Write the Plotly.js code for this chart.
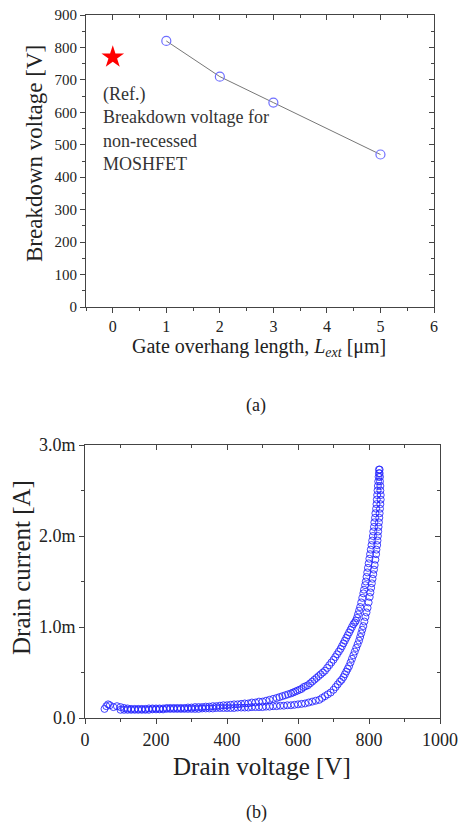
<!DOCTYPE html>
<html>
<head>
<meta charset="utf-8">
<script src="https://cdn.plot.ly/plotly-3.0.1.min.js"></script>
<style>html,body{margin:0;padding:0;background:#fff;}#chart{width:458px;height:826px;}</style>
</head>
<body>
<div id="chart"></div>
<script>
// ---- Panel (a) data ----
const gateOverhang = [1, 2, 3, 5];
const breakdownV = [820, 710, 630, 470];
const refLext = [0];
const refBreakdownV = [770];
const refLabel = "(Ref.)<br>Breakdown voltage for<br>non-recessed<br>MOSHFET";

// ---- Panel (b) data (drain current in mA) ----
const vForward = [100,110,120,130,140,150,160,170,180,190,200,210,220,230,240,250,260,270,280,290,300,310,320,330,340,350,360,370,380,390,400,410,420,430,440,450,460,470,480,490,500,510,520,530,540,550,560,570,580,590,600,610,620,630,640,650,660,668,676,684,692,700,706,712,718,723,728,732,736,740,744,748,752,756,760,764,768,772,775,778,781,784,787,790,793,796,799,802,804,806,808,810,812,814,816,818,820,821,823,824,825,826,827,828,829,830,831,832,833,833,832,832,831,831,830,830];
const iForward = [0.09,0.09,0.09,0.09,0.09,0.09,0.09,0.09,0.09,0.095,0.095,0.095,0.095,0.1,0.1,0.1,0.1,0.1,0.1,0.1,0.1,0.1,0.1,0.105,0.105,0.105,0.105,0.11,0.11,0.11,0.11,0.11,0.11,0.115,0.115,0.115,0.115,0.12,0.12,0.12,0.12,0.125,0.125,0.13,0.13,0.135,0.135,0.14,0.14,0.145,0.15,0.155,0.16,0.17,0.18,0.19,0.2,0.22,0.24,0.26,0.28,0.31,0.34,0.37,0.4,0.42,0.45,0.48,0.51,0.54,0.57,0.61,0.65,0.69,0.73,0.77,0.81,0.85,0.89,0.93,0.97,1.01,1.06,1.11,1.16,1.21,1.27,1.33,1.38,1.43,1.48,1.53,1.58,1.63,1.68,1.74,1.8,1.85,1.9,1.95,2.0,2.05,2.1,2.15,2.2,2.25,2.3,2.35,2.4,2.45,2.5,2.55,2.6,2.65,2.69,2.73];
const vReturn = [828,828,827,826,825,824,823,822,821,820,818,817,815,814,812,811,809,807,805,803,801,799,797,795,793,791,789,786,784,781,778,775,772,769,766,763,760,756,752,748,744,740,736,732,728,724,720,715,710,705,700,694,688,682,676,670,664,658,652,646,640,634,628,622,616,610,604,598,592,586,580,572,564,556,548,540,530,520,510,500,490,480,470,460,450,440,430,420,410,400,390,380,370,360,350,340,330,320,310,300,290,280,270,260,250,240,230,220,210,200,190,180,170,160,150,140,130,120,110,100,90,80,70,65,60,55];
const iReturn = [2.73,2.69,2.65,2.6,2.55,2.5,2.45,2.4,2.35,2.3,2.25,2.2,2.15,2.1,2.05,2.0,1.95,1.9,1.85,1.8,1.75,1.7,1.65,1.6,1.55,1.5,1.46,1.41,1.37,1.32,1.27,1.22,1.18,1.14,1.1,1.07,1.05,1.03,1.0,0.97,0.94,0.91,0.88,0.85,0.82,0.79,0.76,0.73,0.7,0.67,0.64,0.61,0.58,0.55,0.52,0.5,0.48,0.46,0.44,0.42,0.4,0.38,0.36,0.35,0.34,0.32,0.31,0.3,0.29,0.28,0.27,0.26,0.25,0.24,0.23,0.22,0.21,0.2,0.19,0.18,0.18,0.17,0.17,0.16,0.16,0.155,0.15,0.15,0.145,0.14,0.14,0.135,0.13,0.13,0.125,0.125,0.12,0.12,0.12,0.115,0.115,0.11,0.11,0.11,0.11,0.11,0.11,0.105,0.105,0.105,0.105,0.105,0.1,0.1,0.1,0.1,0.1,0.105,0.11,0.12,0.13,0.12,0.14,0.15,0.13,0.1];
const currentTickVals = [0, 1, 2, 3];
const currentTickText = ["0.0", "1.0m", "2.0m", "3.0m"];

const W = 458, H = 826;
const px = v => v / W, py = v => 1 - v / H;
const serif = "Liberation Serif";
const axCol = "#444";
const txtCol = "#222";

const baseAxis = (extra) => Object.assign({
  showline: true, linecolor: axCol, linewidth: 1, mirror: false,
  showgrid: false, zeroline: false, ticks: "outside", ticklen: 5, tickwidth: 1, tickcolor: axCol,
  tickfont: {family: serif, size: 16, color: txtCol}, fixedrange: true
}, extra);
const mirrorAxis = (extra) => Object.assign({
  showline: true, linecolor: axCol, linewidth: 1, showgrid: false, zeroline: false,
  ticks: "inside", ticklen: 5, tickwidth: 1, tickcolor: axCol, showticklabels: false, fixedrange: true
}, extra);

const blue = "rgba(35,35,255,0.85)";
const traces = [
  {x: gateOverhang, y: breakdownV, xaxis: "x", yaxis: "y", mode: "lines+markers", type: "scatter",
   line: {color: "#777", width: 1},
   marker: {symbol: "circle-open", size: 9, color: "#6f6fff", line: {width: 1.2, color: "#6f6fff"}},
   hoverinfo: "skip", cliponaxis: false},
  {x: refLext, y: refBreakdownV, xaxis: "x", yaxis: "y", mode: "markers", type: "scatter",
   marker: {symbol: "star", size: 17, color: "#ff0000", line: {width: 0}}, hoverinfo: "skip"},
  {x: vForward, y: iForward, xaxis: "x2", yaxis: "y2", mode: "markers", type: "scatter",
   marker: {symbol: "circle-open", size: 7, color: blue, line: {width: 1, color: blue}},
   hoverinfo: "skip", cliponaxis: false},
  {x: vReturn, y: iReturn, xaxis: "x2", yaxis: "y2", mode: "markers", type: "scatter",
   marker: {symbol: "circle-open", size: 7, color: blue, line: {width: 1, color: blue}},
   hoverinfo: "skip", cliponaxis: false},
  {x: [null], y: [null], xaxis: "x3", yaxis: "y3", type: "scatter", mode: "markers", hoverinfo: "skip"},
  {x: [null], y: [null], xaxis: "x4", yaxis: "y4", type: "scatter", mode: "markers", hoverinfo: "skip"}
];

const dA = {x: [px(86), px(434)], y: [py(307), py(15)]};
const dB = {x: [px(85), px(440)], y: [py(718), py(445)]};

const layout = {
  width: W, height: H, margin: {l: 0, r: 0, t: 0, b: 0},
  paper_bgcolor: "#fff", plot_bgcolor: "#fff", showlegend: false,
  xaxis: baseAxis({domain: dA.x, anchor: "y", range: [-0.5, 6], dtick: 1, tick0: 0,
    minor: {dtick: 0.5, ticklen: 3, ticks: "outside", tickcolor: axCol}}),
  yaxis: baseAxis({domain: dA.y, anchor: "x", range: [0, 900], dtick: 100, tick0: 0,
    tickfont: {family: serif, size: 15, color: txtCol},
    minor: {dtick: 50, ticklen: 3, ticks: "outside", tickcolor: axCol}}),
  xaxis3: mirrorAxis({overlaying: "x", side: "top", anchor: "y", range: [-0.5, 6], dtick: 1, tick0: 0,
    minor: {dtick: 0.5, ticklen: 3, ticks: "inside", tickcolor: axCol}}),
  yaxis3: mirrorAxis({overlaying: "y", side: "right", anchor: "x", range: [0, 900], dtick: 100, tick0: 0,
    minor: {dtick: 50, ticklen: 3, ticks: "inside", tickcolor: axCol}}),
  xaxis2: baseAxis({domain: dB.x, anchor: "y2", range: [0, 1000], dtick: 200, tick0: 0,
    tickfont: {family: serif, size: 18, color: txtCol},
    minor: {dtick: 100, ticklen: 3, ticks: "outside", tickcolor: axCol}}),
  yaxis2: baseAxis({domain: dB.y, anchor: "x2", range: [0, 3], tickvals: currentTickVals, ticktext: currentTickText,
    tickfont: {family: serif, size: 18, color: txtCol},
    minor: {dtick: 0.5, ticklen: 3, ticks: "outside", tickcolor: axCol}}),
  xaxis4: mirrorAxis({overlaying: "x2", side: "top", anchor: "y2", range: [0, 1000], dtick: 200, tick0: 0,
    minor: {dtick: 100, ticklen: 3, ticks: "inside", tickcolor: axCol}}),
  yaxis4: mirrorAxis({overlaying: "y2", side: "right", anchor: "x2", range: [0, 3], dtick: 1, tick0: 0,
    minor: {dtick: 0.5, ticklen: 3, ticks: "inside", tickcolor: axCol}}),
  annotations: [
    {text: "Breakdown voltage [V]", xref: "paper", yref: "paper", x: px(35), y: py(154), textangle: -90,
     xanchor: "center", yanchor: "middle",
     showarrow: false, font: {family: serif, size: 23, color: txtCol}},
    {text: "Gate overhang length, <i>L</i><sub><i>ext</i></sub> [μm]", xref: "paper", yref: "paper", x: px(259), y: py(347),
     xanchor: "center", yanchor: "middle",
     showarrow: false, font: {family: serif, size: 20, color: txtCol}},
    {text: "(a)", xref: "paper", yref: "paper", x: px(256), y: py(405), xanchor: "center", yanchor: "middle", showarrow: false,
     font: {family: serif, size: 18, color: txtCol}},
    {text: refLabel, xref: "paper", yref: "paper", x: px(101), y: py(82), xanchor: "left", yanchor: "top", align: "left",
     showarrow: false, font: {family: serif, size: 18, color: "#333"}},
    {text: "Drain current [A]", xref: "paper", yref: "paper", x: px(21), y: py(568), textangle: -90,
     xanchor: "center", yanchor: "middle",
     showarrow: false, font: {family: serif, size: 25, color: txtCol}},
    {text: "Drain voltage [V]", xref: "paper", yref: "paper", x: px(262), y: py(766),
     xanchor: "center", yanchor: "middle",
     showarrow: false, font: {family: serif, size: 25, color: txtCol}},
    {text: "(b)", xref: "paper", yref: "paper", x: px(256), y: py(812), xanchor: "center", yanchor: "middle", showarrow: false,
     font: {family: serif, size: 18, color: txtCol}}
  ]
};

Plotly.newPlot("chart", traces, layout, {staticPlot: true, displayModeBar: false});
</script>
</body>
</html>
